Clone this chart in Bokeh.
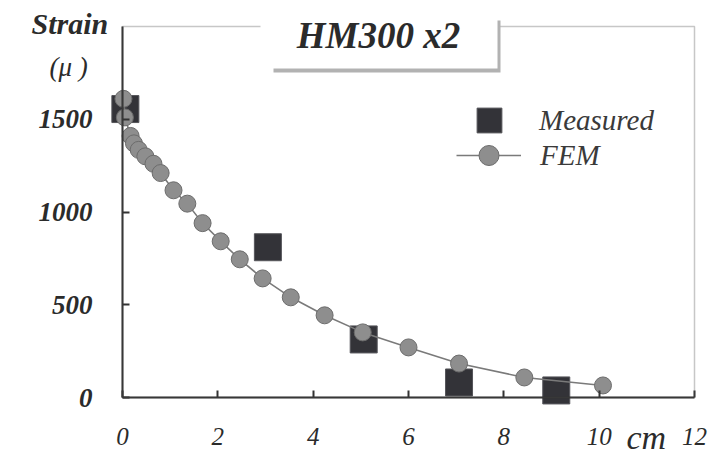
from bokeh.plotting import figure
from bokeh.models import Range1d, FixedTicker, Label, Legend, LegendItem, ColumnDataSource, BoxAnnotation
from bokeh.embed import file_html
from bokeh.resources import INLINE

# ---- data ----
fem_x = [0.02, 0.05, 0.17, 0.24, 0.34, 0.48, 0.65, 0.80, 1.07, 1.36, 1.68, 2.06, 2.46, 2.94, 3.53, 4.24, 5.04, 6.00, 7.06, 8.43, 10.08]
fem_y = [1610, 1510, 1410, 1370, 1335, 1300, 1260, 1210, 1117, 1045, 940, 842, 745, 642, 540, 443, 351, 270, 183, 108, 65]
meas_x = [0.06, 3.05, 5.06, 7.06, 9.10]
meas_y = [1555, 810, 313, 81, 38]
x_ticks = [0, 2, 4, 6, 8, 10, 12]
y_ticks = [0, 500, 1000, 1500]
x_min, x_max = 0, 12
y_min, y_max = 0, 2000
title_text = "HM300 x2"
y_label_1 = "Strain"
y_label_2 = "(\u03bc )"
x_label = "cm"

SERIF = "Liberation Serif"
INK = "#2b2b2b"

# canvas geometry: the plotting box spans px 122..694 horizontally, 26..397 vertically
W, H = 727, 455
BOX_L, BOX_R, BOX_T, BOX_B = 122, 694, 26, 397
xu = (x_max - x_min) / (BOX_R - BOX_L)   # data units per pixel
yu = (y_max - y_min) / (BOX_B - BOX_T)

def px_x(px):
    return x_min + (px - BOX_L) * xu

def px_y(py):
    return y_min + (BOX_B - py) * yu

p = figure(width=W, height=H, output_backend="svg", toolbar_location=None,
           x_range=Range1d(px_x(0), px_x(W)), y_range=Range1d(px_y(H), px_y(0)),
           min_border=0)
p.background_fill_color = "white"
p.border_fill_color = "white"
p.grid.visible = False
p.outline_line_color = None

for ax in (p.xaxis[0], p.yaxis[0]):
    ax.axis_line_color = "#333333"
    ax.axis_line_width = 2
    ax.major_tick_line_color = "#333333"
    ax.major_tick_line_width = 2
    ax.major_tick_in = 7
    ax.major_tick_out = 0
    ax.minor_tick_line_color = None
    ax.major_label_text_font = SERIF
    ax.major_label_text_color = INK

p.xaxis.fixed_location = y_min
p.xaxis.bounds = (x_min, x_max)
p.xaxis.ticker = FixedTicker(ticks=x_ticks)
p.xaxis.major_label_text_font_style = "italic"
p.xaxis.major_label_text_font_size = "25px"
p.xaxis.major_label_standoff = 30

p.yaxis.fixed_location = x_min
p.yaxis.bounds = (y_min, y_max)
p.yaxis.ticker = FixedTicker(ticks=y_ticks)
p.yaxis.major_label_text_font_style = "bold italic"
p.yaxis.major_label_text_font_size = "27px"
p.yaxis.major_label_standoff = 30

# plot box border
p.add_layout(BoxAnnotation(left=x_min, right=x_max, bottom=y_min, top=y_max,
                           fill_alpha=0, line_color="#444444", line_width=1.5))

# title box: shadow + white card
p.add_layout(BoxAnnotation(left=px_x(273), right=px_x(500), top=px_y(20), bottom=px_y(72),
                           fill_color="#b2b2b2", fill_alpha=1, line_color=None))
p.add_layout(BoxAnnotation(left=px_x(260), right=px_x(497), top=px_y(0), bottom=px_y(68),
                           fill_color="white", fill_alpha=1, line_color=None))

meas_src = ColumnDataSource(dict(x=meas_x, y=meas_y))
fem_src = ColumnDataSource(dict(x=fem_x, y=fem_y))

r_meas = p.scatter("x", "y", source=meas_src, marker="square", size=27,
                   fill_color="#333338", line_color="#55555a", line_width=1)
r_line = p.line("x", "y", source=fem_src, line_color="#7a7a7a", line_width=1.6)
r_fem = p.scatter("x", "y", source=fem_src, marker="circle", size=17,
                  fill_color="#8e8e8e", line_color="#6c6c6c", line_width=1)

# legends (location = bottom-left corner in px from the canvas bottom-left)
leg1 = Legend(items=[LegendItem(label="Measured", renderers=[r_meas])],
              location=(458, H - 151), glyph_width=62, glyph_height=62, label_standoff=19,
              padding=0, margin=0, border_line_color=None, background_fill_alpha=0,
              label_text_font=SERIF, label_text_font_style="italic",
              label_text_font_size="29px", label_text_color="#3a3a3a")
leg2 = Legend(items=[LegendItem(label="FEM", renderers=[r_line, r_fem])],
              location=(456, H - 180), glyph_width=65, glyph_height=50, label_standoff=19,
              padding=0, margin=0, border_line_color=None, background_fill_alpha=0,
              label_text_font=SERIF, label_text_font_style="italic",
              label_text_font_size="29px", label_text_color="#3a3a3a")
p.add_layout(leg1)
p.add_layout(leg2)

# axis titles
p.add_layout(Label(x=px_x(31), y=px_y(23), text=y_label_1, text_font=SERIF,
                   text_font_style="bold italic", text_font_size="30px", text_color=INK,
                   text_align="left", text_baseline="middle"))
p.add_layout(Label(x=px_x(49), y=px_y(66), text=y_label_2, text_font=SERIF,
                   text_font_style="italic", text_font_size="27px", text_color=INK,
                   text_align="left", text_baseline="middle"))
p.add_layout(Label(x=px_x(626), y=px_y(437), text=x_label, text_font=SERIF,
                   text_font_style="italic", text_font_size="34px", text_color=INK,
                   text_align="left", text_baseline="middle"))

# title text
p.add_layout(Label(x=px_x(378), y=px_y(35), text=title_text, text_font=SERIF,
                   text_font_style="bold italic", text_font_size="37px", text_color=INK,
                   text_align="center", text_baseline="middle"))

open("out.html", "w").write(file_html(p, INLINE))
